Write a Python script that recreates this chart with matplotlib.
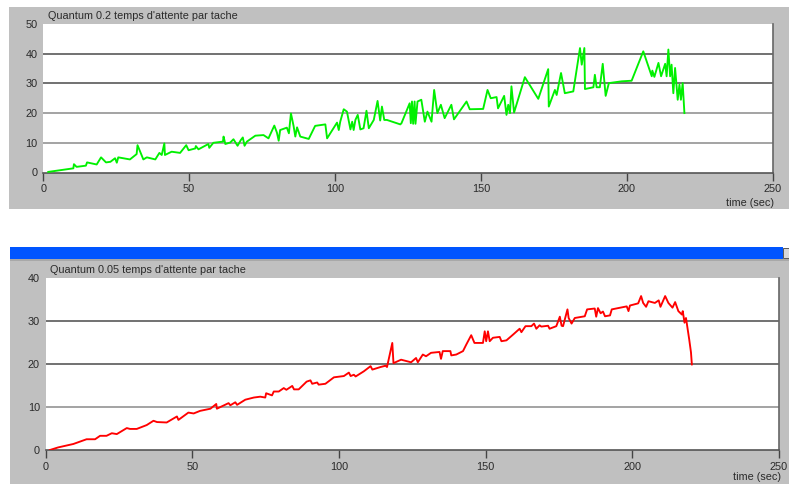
import matplotlib
matplotlib.use("Agg")
import matplotlib.pyplot as plt
from matplotlib.patches import Rectangle

plt.rcParams['font.family'] = ['Liberation Sans', 'DejaVu Sans']

# ---------------- data ----------------
title_top = "Quantum 0.2 temps d'attente par tache"
title_bot = "Quantum 0.05 temps d'attente par tache"
xlabel = "time (sec)"
xticks = [0, 50, 100, 150, 200, 250]
yticks_top = [0, 10, 20, 30, 40, 50]
yticks_bot = [0, 10, 20, 30, 40]

top_t = [1.7, 10.3, 10.5, 11.4, 14.6, 15.0, 18.3, 19.8, 21.5, 23.0,
         24.6, 25.2, 25.7, 29.7, 32.0, 32.3, 34.3, 35.5, 38.4, 39.8,
         40.6, 41.5, 41.7, 44.0, 46.9, 49.0, 49.8, 52.1, 52.3, 53.2,
         56.6, 56.9, 58.3, 61.6, 61.8, 62.4, 64.1, 65.2, 66.6, 67.7,
         68.4, 69.0, 69.8, 72.7, 75.5, 77.2, 79.2, 80.1, 80.7, 81.2,
         83.5, 84.2, 84.9, 85.8, 86.4, 87.0, 88.1, 91.0, 93.2, 96.7,
         97.3, 100.7, 101.3, 101.8, 103.0, 104.1, 105.3, 105.9, 106.4, 107.0,
         107.8, 108.7, 109.8, 110.8, 111.6, 113.3, 114.6, 115.5, 116.1, 116.9,
         117.8, 122.4, 122.8, 125.6, 126.0, 126.4, 126.8, 127.3, 127.6, 128.3,
         129.6, 130.8, 131.7, 133.1, 134.0, 135.1, 136.3, 137.6, 139.9, 140.8,
         145.1, 146.2, 150.8, 152.3, 153.4, 155.4, 155.9, 158.0, 158.8, 159.4,
         160.0, 160.5, 161.4, 165.1, 169.7, 173.1, 173.3, 175.4, 176.0, 177.5,
         178.8, 181.7, 184.0, 184.6, 185.5, 185.7, 188.6, 189.1, 189.7, 190.8,
         191.8, 192.8, 193.9, 198.3, 201.7, 205.7, 208.6, 208.8, 209.5, 210.9,
         211.8, 213.2, 213.7, 214.3, 214.9, 215.4, 216.0, 216.6, 217.5, 218.1,
         218.6, 219.2, 219.8]
top_v = [0.2, 1.4, 2.8, 1.9, 2.3, 3.4, 2.7, 5.1, 3.4, 3.6,
         4.8, 3.3, 5.1, 4.4, 6.2, 9.2, 4.4, 5.1, 4.4, 6.6,
         5.9, 9.8, 5.9, 7.0, 6.6, 9.2, 7.5, 8.1, 8.9, 7.8,
         9.6, 8.3, 10.0, 10.4, 12.1, 9.6, 10.1, 11.2, 9.0, 10.9,
         11.8, 9.0, 10.4, 12.4, 12.6, 11.5, 15.8, 13.4, 10.7, 14.3,
         15.1, 13.2, 19.9, 15.7, 12.1, 15.2, 12.1, 11.3, 15.7, 16.2,
         11.5, 16.8, 14.3, 17.1, 21.3, 20.5, 14.5, 17.1, 14.3, 17.7,
         19.4, 14.5, 14.9, 20.8, 14.9, 17.7, 24.1, 17.5, 22.2, 17.7,
         17.7, 16.2, 16.6, 23.3, 16.6, 23.9, 16.4, 23.9, 16.4, 23.9,
         24.5, 17.1, 20.5, 17.1, 27.8, 20.0, 22.8, 18.3, 22.8, 17.9,
         23.9, 21.3, 21.4, 27.8, 25.0, 25.4, 21.6, 25.8, 19.4, 22.8,
         20.0, 29.0, 20.2, 32.1, 24.8, 34.8, 22.2, 27.8, 26.1, 33.5,
         26.7, 27.3, 41.9, 36.3, 41.9, 28.1, 28.7, 32.9, 28.7, 28.7,
         36.6, 25.8, 30.1, 30.7, 30.9, 40.8, 32.4, 34.3, 32.2, 36.9,
         32.4, 36.6, 32.4, 41.4, 32.4, 36.3, 26.7, 35.2, 24.5, 29.6,
         24.5, 30.1, 20.0]

bot_t = [1.5, 4.3, 9.5, 14.0, 16.9, 18.6, 20.8, 22.6, 24.3, 27.7,
         28.8, 31.1, 34.5, 36.8, 38.0, 41.3, 44.8, 45.3, 48.7, 50.5,
         52.7, 56.2, 58.2, 58.4, 62.4, 63.0, 64.7, 65.3, 68.1, 71.0,
         73.2, 74.9, 75.2, 77.2, 77.8, 79.5, 81.2, 82.1, 84.1, 84.7,
         86.3, 89.0, 90.3, 90.9, 92.6, 93.1, 95.4, 98.3, 101.7, 103.4,
         104.0, 105.1, 105.7, 108.5, 110.8, 111.4, 114.2, 115.9, 116.4, 118.2,
         118.6, 121.2, 124.6, 126.3, 126.9, 128.6, 129.7, 131.4, 134.3, 134.8,
         135.4, 138.0, 138.3, 140.0, 142.3, 143.4, 145.1, 146.2, 149.1, 149.7,
         150.2, 150.8, 151.4, 152.5, 154.8, 155.4, 157.1, 159.3, 161.6, 162.2,
         163.6, 165.6, 166.5, 167.3, 168.4, 169.0, 171.3, 171.8, 174.1, 175.3,
         175.9, 176.4, 177.9, 178.3, 179.3, 180.4, 183.8, 184.6, 187.2, 187.7,
         188.3, 189.2, 190.0, 190.7, 192.4, 193.0, 198.1, 198.7, 199.2, 202.0,
         203.0, 203.7, 204.7, 205.5, 207.7, 209.0, 209.6, 211.2, 212.3, 213.7,
         214.6, 215.7, 216.9, 217.2, 217.8, 218.3, 218.9, 219.4, 220.0, 220.3]
bot_v = [0.0, 0.6, 1.4, 2.5, 2.5, 3.3, 3.3, 3.9, 3.7, 5.1,
         4.9, 4.9, 5.8, 6.8, 6.5, 6.4, 7.8, 7.0, 8.7, 8.5,
         9.1, 9.6, 10.7, 9.6, 10.9, 10.4, 11.1, 10.5, 11.7, 12.2,
         12.4, 12.2, 13.2, 12.7, 13.6, 13.6, 14.4, 14.0, 14.9, 14.1,
         14.1, 15.9, 16.2, 15.4, 15.7, 15.2, 15.4, 16.9, 17.2, 18.0,
         17.2, 17.5, 17.1, 18.3, 19.5, 18.7, 19.3, 19.6, 19.3, 24.9,
         20.2, 21.0, 20.4, 21.4, 20.4, 22.2, 21.8, 22.6, 22.8, 21.2,
         23.0, 23.0, 22.0, 22.2, 23.0, 24.5, 26.7, 24.9, 24.9, 27.6,
         25.3, 27.6, 25.3, 26.1, 26.3, 25.3, 25.5, 26.8, 28.2, 27.4,
         28.8, 28.8, 29.4, 28.2, 29.0, 28.7, 28.9, 28.2, 28.8, 31.0,
         28.9, 28.8, 32.7, 30.7, 29.4, 30.7, 31.1, 32.7, 32.9, 31.0,
         33.0, 31.8, 32.2, 31.1, 31.3, 32.7, 33.4, 32.3, 33.6, 34.1,
         35.8, 34.2, 33.3, 34.6, 34.2, 34.8, 33.3, 35.8, 34.2, 33.1,
         34.4, 32.3, 31.5, 32.3, 29.6, 30.7, 28.0, 25.7, 22.7, 19.9]

# ---------------- layout ----------------
W, H = 789, 484
fig = plt.figure(figsize=(W / 100, H / 100), dpi=100)
fig.patch.set_facecolor('white')

GRAY = '#c0c0c0'
TXT = '#2a2a2a'


def rect_px(x0, y0, x1, y1, **kw):
    fig.patches.append(Rectangle((x0 / W, 1 - y1 / H), (x1 - x0) / W, (y1 - y0) / H,
                                 transform=fig.transFigure, figure=fig, zorder=-5, **kw))


def ax_px(x0, y0, x1, y1):
    ax = fig.add_axes([x0 / W, 1 - y1 / H, (x1 - x0) / W, (y1 - y0) / H])
    ax.set_zorder(2)
    return ax


# panel backgrounds
rect_px(9, 7, 789, 209, facecolor=GRAY, edgecolor='none')
rect_px(10, 247, 783, 259, facecolor='#0055ff', edgecolor='none')
rect_px(783, 248, 789, 258, facecolor='#d8d8d8', edgecolor='#404040', lw=0.6)
rect_px(10, 259, 789, 484, facecolor=GRAY, edgecolor='none')
rect_px(10, 259, 789, 261, facecolor='#a8a8a8', edgecolor='none')


def style_axes(ax, t, v, color, yticks, grid_colors):
    ax.set_facecolor('white')
    ax.plot(t, v, color=color, lw=1.35, zorder=3)
    ax.set_xlim(0, 250)
    ax.set_ylim(yticks[0], yticks[-1])
    ax.set_xticks(xticks)
    ax.set_yticks(yticks)
    for yv, gc in zip(yticks[1:-1], grid_colors):
        ax.axhline(yv, color=gc, lw=1.1, zorder=1)
    for s in ['top', 'left']:
        ax.spines[s].set_visible(False)
    ax.spines['bottom'].set_color('#555555')
    ax.spines['bottom'].set_linewidth(1.2)
    ax.spines['right'].set_color('#666666')
    ax.spines['right'].set_linewidth(1.2)
    ax.tick_params(axis='x', direction='out', length=6, width=1.0, color='#444444',
                   labelsize=7.8, labelcolor=TXT, pad=2.5)
    ax.tick_params(axis='y', length=0, labelsize=7.8, labelcolor=TXT, pad=4)


ax1 = ax_px(43.3, 24, 772.5, 172.5)
style_axes(ax1, top_t, top_v, '#00f000', yticks_top,
           ['#8a8a8a', '#8a8a8a', '#4a4a4a', '#4a4a4a'])
ax2 = ax_px(45.5, 278, 779, 450)
style_axes(ax2, bot_t, bot_v, '#ff0000', yticks_bot,
           ['#8a8a8a', '#4a4a4a', '#4a4a4a'])

fig.text(48 / W, 1 - 16 / H, title_top, fontsize=7.8, color=TXT, ha='left', va='center')
fig.text(50 / W, 1 - 270 / H, title_bot, fontsize=7.8, color=TXT, ha='left', va='center')
fig.text(750 / W, 1 - 203 / H, xlabel, fontsize=7.8, color=TXT, ha='center', va='center')
fig.text(757 / W, 1 - 477 / H, xlabel, fontsize=7.8, color=TXT, ha='center', va='center')

fig.savefig('out.png', dpi=100, facecolor='white')
